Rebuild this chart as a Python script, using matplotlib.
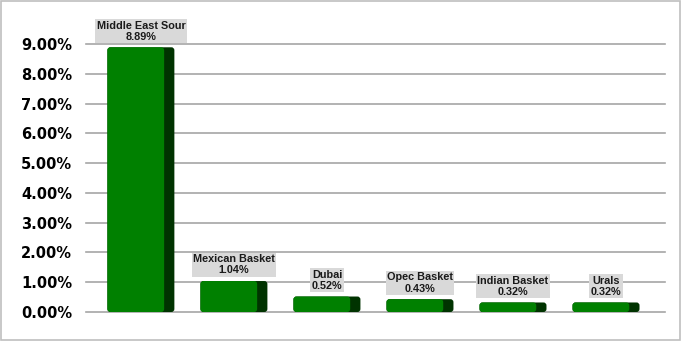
import matplotlib
matplotlib.use("Agg")
import matplotlib.pyplot as plt
from matplotlib.patches import Rectangle, FancyBboxPatch

categories = ["Middle East Sour", "Mexican Basket", "Dubai", "Opec Basket", "Indian Basket", "Urals"]
values = [8.89, 1.04, 0.52, 0.43, 0.32, 0.32]
yticks = [0, 1, 2, 3, 4, 5, 6, 7, 8, 9]
ytick_labels = ["%.2f%%" % v for v in yticks]

fig = plt.figure(figsize=(6.81, 3.41), dpi=100)
fig.patch.set_facecolor("white")
fig.patches.append(Rectangle((0.001, 0.002), 0.997, 0.995, transform=fig.transFigure,
                             fill=False, edgecolor="#bfbfbf", linewidth=1.2))

ax = fig.add_axes([86/681, 29/341, 579/681, 268/341])
ax.set_xlim(-0.59, 5.634)
ax.set_ylim(0, 9.0)
for s in ax.spines.values():
    s.set_visible(False)
ax.set_yticks(yticks)
ax.set_yticklabels(ytick_labels, fontfamily="DejaVu Sans", fontweight="bold", fontsize=10.5)
ax.tick_params(axis="y", length=0, pad=10)
ax.set_xticks([])
for t in yticks:
    ax.axhline(t, color="#a6a6a6", linewidth=1.2, zorder=0, clip_on=False)

x = list(range(len(categories)))
bw = 0.72
front = 0.61
px_x = 579 / (5.634 + 0.59)
px_y = 268 / 9.0
r_px = 3.0
aspect = px_x / px_y


def rounded(bars, color, z):
    for b in bars:
        b.set_visible(False)
        x0, y0 = b.get_x(), b.get_y()
        w, h = b.get_width(), b.get_height()
        p = FancyBboxPatch((x0, y0), w, h,
                           boxstyle="round,pad=0,rounding_size=%f" % (r_px / px_x),
                           mutation_aspect=aspect, facecolor=color, edgecolor="none",
                           zorder=z)
        ax.add_patch(p)


back = ax.bar(x, values, width=bw, color="#003300")
rounded(back, "#003300", 2)
fr = ax.bar([xi - bw/2 for xi in x], values, width=front, align="edge", color="#008000")
rounded(fr, "#008000", 3)

for xi, c, v in zip(x, categories, values):
    ax.annotate("%s\n%.2f%%" % (c, v), xy=(xi, v), xytext=(0, 4), textcoords="offset points",
                ha="center", va="bottom", fontsize=7.8, fontfamily="Liberation Sans",
                fontweight="bold", color="#1a1a1a", linespacing=1.15,
                bbox=dict(boxstyle="square,pad=0.12", facecolor="#d9d9d9", edgecolor="none"),
                annotation_clip=False, zorder=5)

fig.savefig("out.png", dpi=100)
